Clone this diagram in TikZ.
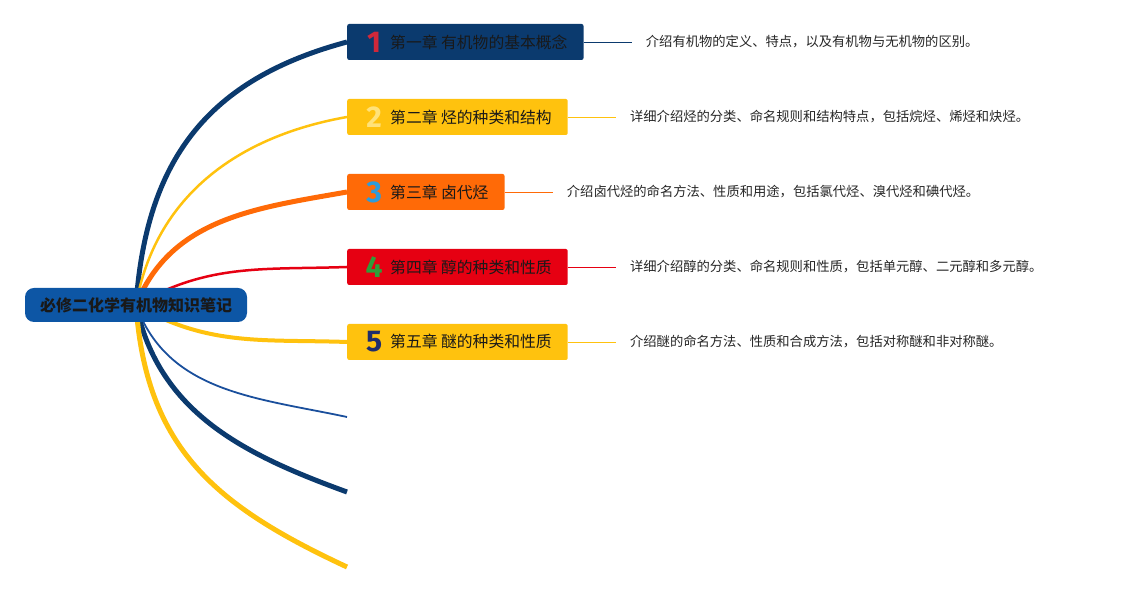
\documentclass[tikz,border=0pt]{standalone}
\usepackage{fontspec}
\setmainfont{Noto Sans CJK SC}
\newfontfamily\numfont{Fira Sans}
\usetikzlibrary{positioning,backgrounds}

\definecolor{navy}{HTML}{0B3A6E}
\definecolor{rootblue}{HTML}{0D56A5}
\definecolor{chyellow}{HTML}{FFC20E}
\definecolor{chorange}{HTML}{FF6A07}
\definecolor{chred}{HTML}{E60012}
\definecolor{thinblue}{HTML}{1A4F9C}
\definecolor{numred}{HTML}{D0283A}
\definecolor{numyellow}{HTML}{FFE27A}
\definecolor{numblue}{HTML}{2D9CDB}
\definecolor{numgreen}{HTML}{2E9E3A}
\definecolor{numnavy}{HTML}{1F2D6B}

% chapter number in front of the title
\newcommand{\chnum}[2]{\makebox[22pt]{\raisebox{-4pt}{\color{#1}\numfont\bfseries\fontsize{30}{30}\selectfont #2}}\hspace{5pt}}

\begin{document}
\begin{tikzpicture}[x=1pt, y=1pt,
    root/.style = {fill=rootblue, rounded corners=9pt, minimum width=222pt, minimum height=34pt, font=\fontsize{16}{16}\selectfont\bfseries, text=black!90},
    chap/.style = {rounded corners=2pt, anchor=west, minimum height=36pt, inner ysep=0pt, inner xsep=16pt, font=\fontsize{15.8}{16}\selectfont, text=black!90},
    desc/.style = {anchor=west, inner xsep=14pt, font=\fontsize{13.3}{14}\selectfont, text=black!85},
    branch/.style = {line width=#1}]
    \useasboundingbox (0,0) rectangle (1127,593);

    \node[root] (root) at (136,288) {必修二化学有机物知识笔记};

    \node[chap, fill=navy] (c1) at (347,551) {\chnum{numred}{1}第一章 有机物的基本概念};
    \node[chap, fill=chyellow] (c2) at (347,476) {\chnum{numyellow}{2}第二章 烃的种类和结构};
    \node[chap, fill=chorange] (c3) at (347,401) {\chnum{numblue}{3}第三章 卤代烃};
    \node[chap, fill=chred] (c4) at (347,326) {\chnum{numgreen}{4}第四章 醇的种类和性质};
    \node[chap, fill=chyellow] (c5) at (347,251) {\chnum{numnavy}{5}第五章 醚的种类和性质};
    \coordinate (e1) at (347,176);
    \coordinate (e2) at (347,101);
    \coordinate (e3) at (347,26);

    \node[desc, right=48pt of c1] (d1) {介绍有机物的定义、特点，以及有机物与无机物的区别。};
    \node[desc, right=48pt of c2] (d2) {详细介绍烃的分类、命名规则和结构特点，包括烷烃、烯烃和炔烃。};
    \node[desc, right=48pt of c3] (d3) {介绍卤代烃的命名方法、性质和用途，包括氯代烃、溴代烃和碘代烃。};
    \node[desc, right=48pt of c4] (d4) {详细介绍醇的分类、命名规则和性质，包括单元醇、二元醇和多元醇。};
    \node[desc, right=48pt of c5] (d5) {介绍醚的命名方法、性质和合成方法，包括对称醚和非对称醚。};

    \begin{scope}[on background layer]
        \draw[navy, branch=5pt] (root.center) to[out=86, in=195, looseness=1.1] (c1.west);
        \draw[chyellow, branch=2.5pt] (root.center) to[out=80, in=190] (c2.west);
        \draw[chorange, branch=5pt] (root.center) to[out=68, in=190] (c3.west);
        \draw[chred, branch=2.5pt] (root.center) to[out=30, in=182] (c4.west);
        \draw[chyellow, branch=4pt] (root.center) to[out=-30, in=178] (c5.west);
        \draw[thinblue, branch=1.8pt] (root.center) to[out=-70, in=168] (e1);
        \draw[navy, branch=5pt] (root.center) to[out=-78, in=160] (e2);
        \draw[chyellow, branch=5pt] (root.center) to[out=-86, in=155, looseness=1.1] (e3);
    \end{scope}

    \draw[navy, line width=0.8pt] (c1) -- (d1);
    \draw[chyellow, line width=0.8pt] (c2) -- (d2);
    \draw[chorange, line width=0.8pt] (c3) -- (d3);
    \draw[chred, line width=0.8pt] (c4) -- (d4);
    \draw[chyellow, line width=0.8pt] (c5) -- (d5);
\end{tikzpicture}
\end{document}
